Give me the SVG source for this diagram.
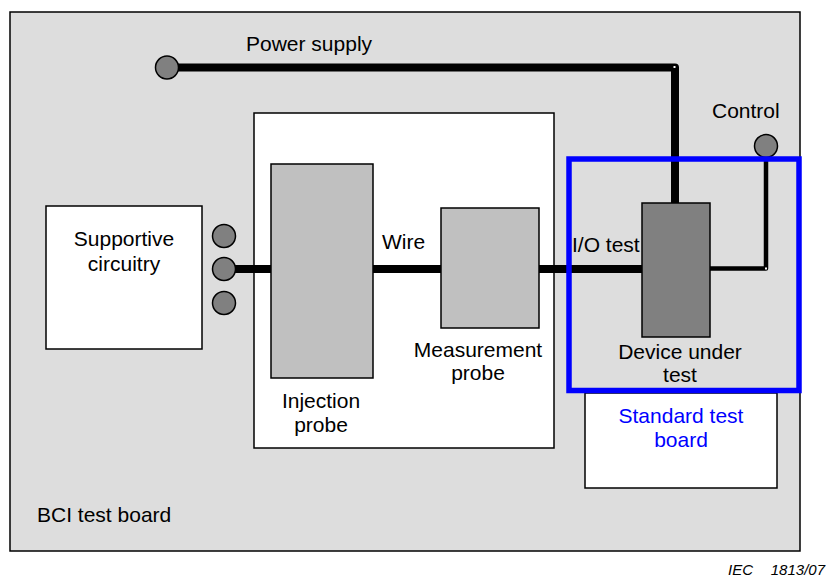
<svg xmlns="http://www.w3.org/2000/svg" width="826" height="580" viewBox="0 0 826 580">
<style>
text{font-family:"Liberation Sans",Arial,sans-serif;font-size:21px;fill:#000}
.box{stroke:#000;stroke-width:1.5}
.pin{fill:#808080;stroke:#000;stroke-width:1.5}
.wire{fill:none;stroke:#000;stroke-width:8;stroke-linejoin:round}
.thin{fill:none;stroke:#000;stroke-width:4.5;stroke-linejoin:round}
.blue{fill:#0000ff}
.mid{text-anchor:middle}
</style>
<rect width="826" height="580" fill="#fff"/>
<g id="bci-board">
<rect class="box" x="10" y="12" width="790" height="539" fill="#dddddd"/>
<text x="37" y="522">BCI test board</text>
</g>
<g id="probe-area">
<rect class="box" x="254" y="113" width="300" height="335" fill="#fff"/>
</g>
<g id="standard-board">
<rect class="box" x="585" y="393" width="192" height="95" fill="#fff"/>
<text class="mid blue" x="681" y="423">Standard test</text>
<text class="mid blue" x="681" y="447">board</text>
</g>
<g id="connectors">
<path class="wire" d="M167,67.5 H675 V203"/>
<path class="wire" d="M224,269 H642"/>
<path class="thin" d="M766,146 V268.5 H710"/>
<rect x="673.5" y="66" width="2" height="2" fill="#fff"/>
<rect x="765" y="267.5" width="2" height="2" fill="#fff"/>
</g>
<g id="supportive">
<rect class="box" x="46" y="206" width="156" height="143" fill="#fff"/>
<text class="mid" x="124" y="246">Supportive</text>
<text class="mid" x="124" y="271">circuitry</text>
</g>
<g id="pins">
<circle class="pin" cx="224" cy="236" r="11.5"/>
<circle class="pin" cx="224" cy="269" r="11.5"/>
<circle class="pin" cx="224" cy="303" r="11.5"/>
</g>
<g id="power-supply">
<circle class="pin" cx="167" cy="67.5" r="11.5"/>
<text x="246" y="51">Power supply</text>
</g>
<g id="injection-probe">
<rect class="box" x="271" y="164" width="102" height="214" fill="#c0c0c0"/>
<text class="mid" x="321" y="408">Injection</text>
<text class="mid" x="321" y="432">probe</text>
</g>
<g id="measurement-probe">
<rect class="box" x="441" y="208" width="98" height="120" fill="#c0c0c0"/>
<text class="mid" x="478" y="357">Measurement</text>
<text class="mid" x="478" y="380">probe</text>
</g>
<g id="wire-label">
<text x="382" y="249">Wire</text>
<text x="572" y="252">I/O test</text>
</g>
<g id="dut">
<rect class="box" x="642" y="203" width="68" height="134" fill="#808080"/>
<text class="mid" x="680" y="359">Device under</text>
<text class="mid" x="680" y="382">test</text>
</g>
<g id="control">
<circle class="pin" cx="766" cy="146" r="11.5"/>
<text x="712" y="118">Control</text>
</g>
<g id="dut-board-outline">
<rect x="569" y="159" width="230" height="231.5" fill="none" stroke="#0000ff" stroke-width="5.5"/>
</g>
<g id="caption">
<text x="728" y="575" style="font-size:15px;font-style:italic">IEC</text>
<text x="825" y="575" style="font-size:15px;font-style:italic;text-anchor:end">1813/07</text>
</g>
</svg>
